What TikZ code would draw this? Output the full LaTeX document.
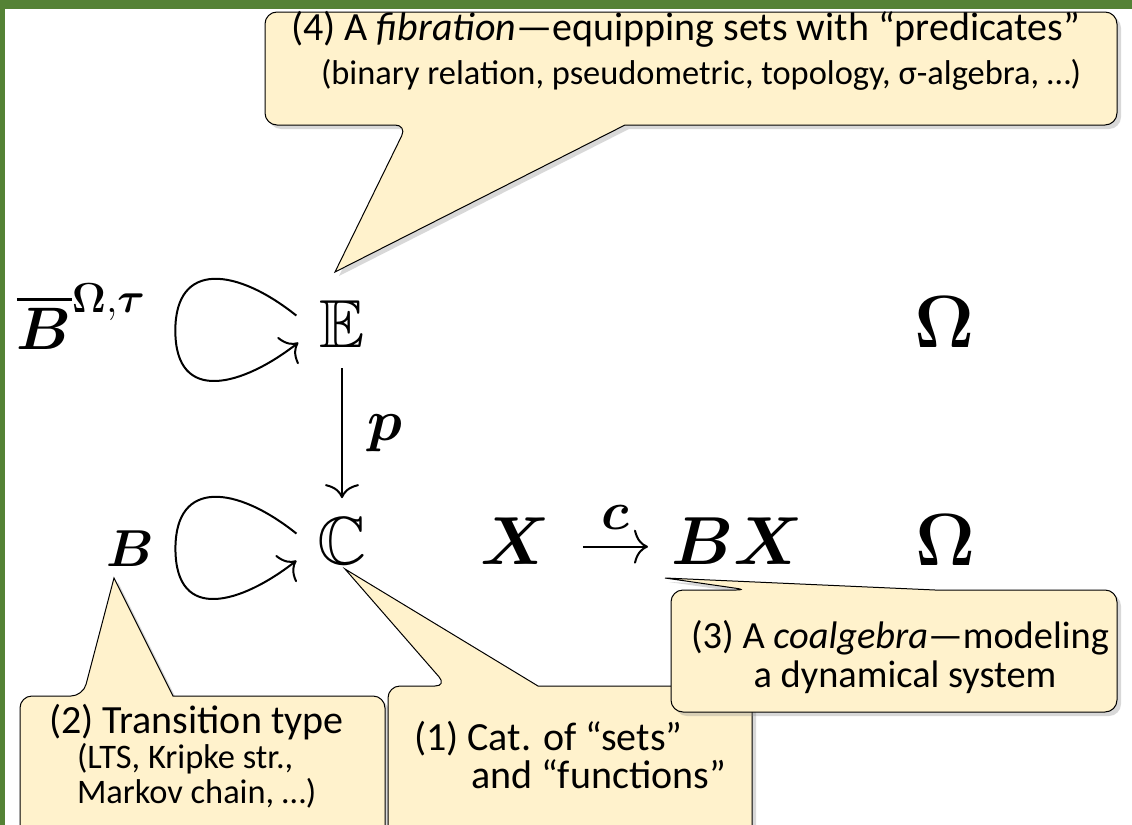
\documentclass[tikz,border=0pt]{standalone}
\usepackage{fix-cm}
\usepackage{amsmath,amssymb,bm}
\usepackage{fontspec}
\newfontfamily\notefont{Carlito}
\usetikzlibrary{arrows.meta,calc,positioning,shadows}

\definecolor{framegreen}{RGB}{84,130,53}
\definecolor{notefill}{RGB}{255,242,204}

\tikzset{
  obj/.style={inner sep=0pt, font=\fontsize{34}{40}\selectfont},
  balloon/.style={fill=notefill, draw=black, line width=0.5pt,
    drop shadow={shadow xshift=2pt, shadow yshift=-2pt, opacity=0.3}},
  notebig/.style={inner sep=0pt, font=\notefont\fontsize{20}{22}\selectfont},
  notesmall/.style={inner sep=0pt, font=\notefont\fontsize{17.2}{19}\selectfont},
}

\begin{document}
\begin{tikzpicture}[x=0.5pt, y=-0.5pt, line width=1pt,
    >={Computer Modern Rightarrow[length=7pt, width=17pt]}]
  \useasboundingbox (0,0) rectangle (1132,825);
  \clip (0,0) rectangle (1132,825);

  % Frame
  \fill[white] (0,0) rectangle (1132,825);
  \fill[framegreen] (0,0) rectangle (1132,9);
  \fill[framegreen] (0,0) rectangle (5,825);

  % Objects
  \node[obj, anchor=base west, font=\fontsize{30}{34}\selectfont] (Bbar) at (16,349) {$\overline{\bm{B}}^{\bm{\Omega},\bm{\tau}}$};
  \node[obj, anchor=base] (E) at (342,347) {$\mathbb{E}$};
  \node[obj, anchor=base, font=\fontsize{37}{42}\selectfont] (Otop) at (945,347) {$\bm{\Omega}$};
  \node[obj, anchor=base, font=\fontsize{26}{30}\selectfont] (B) at (130,566) {$\bm{B}$};
  \node[obj, anchor=base] (C) at (342,564) {$\mathbb{C}$};
  \node[obj, anchor=base] (X) at (515,564) {$\bm{X}$};
  \node[obj, anchor=base west] (BX) at (670,564) {$\bm{B}\bm{X}$};
  \node[obj, anchor=base, font=\fontsize{37}{42}\selectfont] (Obot) at (946,565) {$\bm{\Omega}$};

  % Fibration and coalgebra
  \draw[->] ([yshift=-10pt]E.south) -- node[right=12pt, inner sep=0pt, font=\fontsize{29}{32}\selectfont] (p) {$\bm{p}$} ([yshift=9pt]C.north);
  \draw[->] ([xshift=16pt,yshift=-3pt]X.east) -- node[above=8pt, inner sep=0pt, font=\fontsize{27}{29}\selectfont] (c) {$\bm{c}$} ([xshift=-11pt,yshift=-3pt]BX.west);

  % Loops
  \draw[->] ($(E.west)+(-22,-8)$) .. controls +(-60,-48) and +(0,-70) .. ($(E.west)+(-143,7)$)
    .. controls +(0,75) and +(-55,43) .. ($(E.west)+(-20,19)$);
  \draw[->] ($(C.west)+(-20,-7)$) .. controls +(-60,-48) and +(0,-70) .. ($(C.west)+(-141,8)$)
    .. controls +(0,75) and +(-55,43) .. ($(C.west)+(-20,20)$);

  % Balloon tips
  \coordinate (tipE) at (335,272);
  \coordinate (tipB) at (114,578);
  \coordinate (tipC) at (345,569);
  \coordinate (tipBX) at (665,578);

  % (4) fibration
  \path[balloon] (625,125) [rounded corners=6pt] -- (1117,125) -- (1117,12) -- (265,12) -- (265,125) -- (407,125) [sharp corners] -- (tipE) -- cycle;
  \node[notebig, anchor=base west] (fibA) at (290,40) {(4) A \textit{fibration}—equipping sets with “predicates”};
  \node[notesmall, anchor=base west] (fibB) at (320,84) {(binary relation, pseudometric, topology, σ-algebra, …)};

  % (2) transition type
  \path[balloon] (173,696) [rounded corners=6pt] -- (385,696) -- (385,840) -- (20,840) -- (20,696) -- (83,696) [sharp corners] -- (tipB) -- cycle;
  \node[notebig, anchor=base west] (typeA) at (48,733) {(2) Transition type};
  \node[notesmall, anchor=base west] (typeB) at (76,768) {(LTS, Kripke str.,};
  \node[notesmall, anchor=base west] (typeC) at (76,803) {Markov chain, …)};

  % (1) category
  \path[balloon] (538,686) [rounded corners=6pt] -- (752,686) -- (752,840) -- (388,840) -- (388,686) -- (447,686) [sharp corners] -- (tipC) -- cycle;
  \node[notebig, anchor=base west] (catA) at (413,750) {(1) Cat. of “sets”};
  \node[notebig, anchor=base west] (catB) at (470,788) {and “functions”};

  % (3) coalgebra
  \path[balloon] (935,590) [rounded corners=6pt] -- (1117,590) -- (1117,712) -- (671,712) -- (671,590) -- (748,590) [sharp corners] -- (tipBX) -- cycle;
  \node[notebig, anchor=base, font=\notefont\fontsize{19.2}{22}\selectfont] (coalgA) at (900,648) {(3) A \textit{coalgebra}—modeling};
  \node[notebig, anchor=base, font=\notefont\fontsize{19.2}{22}\selectfont] (coalgB) at (905,687) {a dynamical system};
\end{tikzpicture}
\end{document}
